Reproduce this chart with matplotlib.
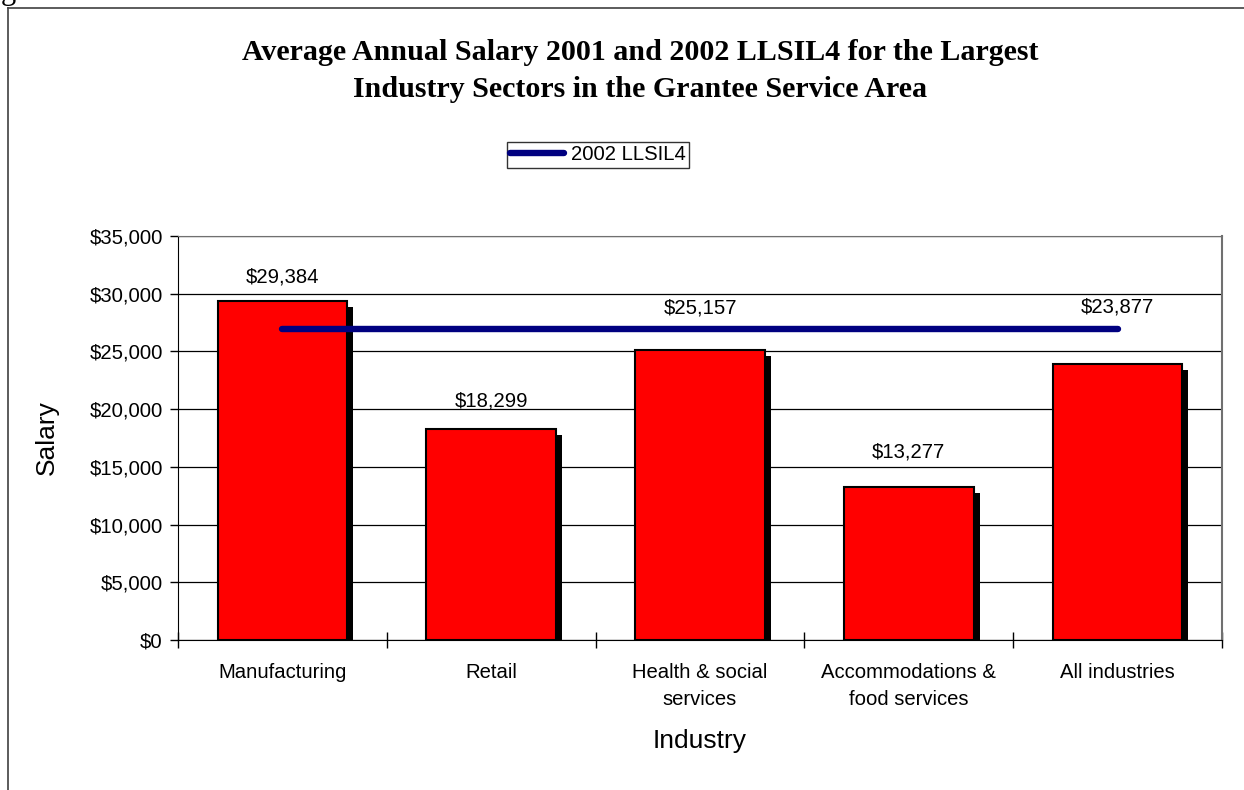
import matplotlib
matplotlib.use("Agg")
import matplotlib.pyplot as plt
import matplotlib.patheffects as pe
from matplotlib.ticker import FuncFormatter, MultipleLocator, FixedLocator
import numpy as np

categories = ["Manufacturing", "Retail", "Health & social\nservices",
              "Accommodations &\nfood services", "All industries"]
salary = [29384, 18299, 25157, 13277, 23877]
llsil4_2002 = 26950
series_name = "2002 LLSIL4"
title = ("Average Annual Salary 2001 and 2002 LLSIL4 for the Largest\n"
         "Industry Sectors in the Grantee Service Area")

# label offsets above bar tops (pixels), as positioned in the source chart
label_offsets_px = [24, 28, 42, 35, 57]

DPI = 100
fig = plt.figure(figsize=(12.44, 7.90), dpi=DPI)
W, H = 1244, 790
sans = ["Liberation Sans", "DejaVu Sans"]
serif = ["Liberation Serif", "DejaVu Serif"]
FS = 14.6

# outer frame
fig.add_artist(plt.Line2D([8/W, 8/W], [0, 1 - 8/H], color="#404040", lw=1.2))
fig.add_artist(plt.Line2D([8/W, 1], [1 - 8/H, 1 - 8/H], color="#404040", lw=1.2))
fig.text(1/W, 1 + 1/H, "g", fontsize=22, family=serif, ha="left", va="baseline")

ax = fig.add_axes([178/W, 1 - 640/H, (1222-178)/W, (640-236)/H])

x = np.arange(len(categories))
bars = ax.bar(x, salary, width=0.62, color="#FF0000", edgecolor="black",
              linewidth=1.5, zorder=3)
for b in bars:
    b.set_path_effects([pe.SimplePatchShadow(offset=(4.3, -4.3),
                                             shadow_rgbFace="black", alpha=1.0),
                        pe.Normal()])

line, = ax.plot([x[0], x[-1]], [llsil4_2002, llsil4_2002], color="#000080",
                lw=4.6, solid_capstyle="round", zorder=4, label=series_name)

for xi, v, off in zip(x, salary, label_offsets_px):
    ax.annotate(f"${v:,.0f}", (xi, v), xytext=(0, off * 72 / DPI),
                textcoords="offset points", ha="center", va="center",
                fontsize=FS, family=sans, zorder=5)

ax.set_xlim(-0.5, len(categories) - 0.5)
ax.set_ylim(0, 35000)
ax.yaxis.set_major_locator(MultipleLocator(5000))
ax.yaxis.set_major_formatter(FuncFormatter(lambda v, p: f"${v:,.0f}"))
ax.set_xticks(x)
ax.set_xticklabels(categories, fontsize=FS, family=sans, linespacing=1.55)
ax.xaxis.set_minor_locator(FixedLocator(np.arange(-0.5, len(categories), 1.0)))
ax.tick_params(axis="x", which="major", length=0, pad=16.5)
ax.tick_params(axis="x", which="minor", length=12, direction="inout", width=1)
ax.tick_params(axis="y", length=6, direction="out", width=1, labelsize=FS, pad=5)
for lab in ax.get_yticklabels():
    lab.set_family(sans)

ax.grid(axis="y", color="black", lw=0.9, zorder=1)
ax.set_axisbelow(True)
ax.spines["left"].set_color("black")
ax.spines["bottom"].set_color("black")
ax.spines["top"].set_color("#707070")
ax.spines["right"].set_color("#707070")
ax.spines["right"].set_linewidth(1.5)

fig.text(47/W, 1 - 438/H, "Salary", rotation=90, ha="center", va="center",
         fontsize=19, family=sans)
fig.text(700/W, 1 - 741/H, "Industry", ha="center", va="center",
         fontsize=19, family=sans)

fig.text(640/W, 1 - 71/H, title, ha="center", va="center", fontsize=21.6,
         fontweight="bold", family=serif, linespacing=1.5)

leg = fig.legend(handles=[line], loc="center", bbox_to_anchor=(598/W, 1 - 155/H),
                 prop={"family": sans, "size": FS}, frameon=True, fancybox=False,
                 edgecolor="black", handlelength=2.7, borderpad=0.15,
                 handletextpad=0.35, borderaxespad=0)
leg.get_frame().set_linewidth(1.0)

fig.savefig("out.png", dpi=DPI)
